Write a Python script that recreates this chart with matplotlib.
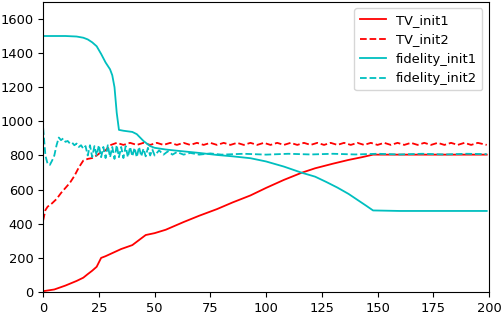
import matplotlib
matplotlib.use('Agg')
import matplotlib.pyplot as plt

# TV_init1 (solid red)
tv1_x = [0, 5, 10, 15, 18, 20, 22, 24, 26, 28, 31, 35, 40, 46, 50, 55, 63, 70, 78, 85, 93,
         100, 108, 116, 122, 130, 137, 143, 148, 160, 180, 199]
tv1_y = [5, 15, 38, 65, 84, 105, 125, 148, 200, 210, 228, 252, 275, 334, 345, 365, 410, 447, 486, 525, 566,
         610, 657, 699, 725, 752, 774, 790, 805, 805, 805, 805]

# fidelity_init1 (solid cyan)
fid1_x = [0, 10, 15, 18, 20, 22, 24, 26, 28, 30, 31, 32, 33, 34, 36, 40, 42, 45, 48, 50,
          55, 60, 70, 78, 85, 93, 100, 108, 116, 122, 127, 132, 137, 141, 145, 148, 160, 180, 199]
fid1_y = [1500, 1500, 1497, 1490, 1480, 1463, 1440, 1395, 1345, 1305, 1270, 1200, 1050, 950, 945, 938, 925, 885, 855, 845,
          835, 828, 815, 803, 795, 784, 765, 735, 699, 676, 645, 612, 575, 540, 505, 478, 475, 475, 475]

# TV_init2 (dashed red)
tv2_x = [0, 1, 2, 4, 6, 8, 10, 12, 14, 16, 18, 20, 22, 24, 26, 28, 30,
         33, 36, 39, 42, 45, 48, 51, 54, 57, 60, 63, 66, 69, 72, 75, 78, 81, 84, 87, 90,
         93, 96, 99, 102, 105, 108, 111, 114, 117, 120, 123, 126, 129, 132, 135, 138, 141, 144,
         147, 150, 153, 156, 159, 162, 165, 168, 171, 174, 177, 180, 183, 186, 189, 192, 195, 199]
tv2_y = [420, 480, 500, 520, 545, 580, 610, 640, 680, 730, 770, 780, 785, 800, 820, 830, 860,
         874, 862, 874, 862, 874, 862, 874, 862, 874, 862, 874, 862, 874, 862, 874, 862, 874, 862, 874, 862,
         874, 862, 874, 862, 874, 862, 874, 862, 874, 862, 874, 862, 874, 862, 874, 862, 874, 862,
         874, 862, 874, 862, 874, 862, 874, 862, 874, 862, 874, 862, 874, 862, 874, 862, 874, 862]

# fidelity_init2 (dashed cyan)
fid2_x = [0, 1, 2, 3, 4, 5, 6, 7, 8, 9, 10, 11, 12, 13, 14, 15, 16, 17, 18, 19,
          20, 21, 22, 23, 24, 25, 26, 27, 28, 29, 30, 31, 32, 33, 34, 35, 36, 37, 38, 39,
          40, 41, 42, 43, 44, 45, 46, 47, 48, 49, 50, 52, 54, 56, 58, 60, 63, 66, 70, 75,
          80, 90, 100, 110, 120, 130, 140, 150, 160, 170, 180, 190, 199]
fid2_y = [960, 800, 750, 745, 770, 800, 860, 905, 890, 900, 880, 885, 870, 875, 860, 870, 850, 860, 840, 855,
          800, 860, 790, 855, 800, 860, 790, 850, 785, 860, 790, 850, 780, 860, 790, 850, 785, 855, 790, 850,
          795, 845, 790, 850, 795, 840, 795, 845, 800, 835, 800, 830, 805, 825, 805, 820, 805, 815, 805, 812,
          805, 810, 805, 810, 806, 810, 806, 810, 806, 810, 806, 810, 808]

plt.rcParams['font.size'] = 9.4

fig = plt.figure(figsize=(5.02, 3.12), dpi=100)
ax = fig.add_axes([0.086, 0.064, 0.888, 0.93])

ax.plot(tv1_x, tv1_y, color='r', lw=1.3, label='TV_init1')
ax.plot(tv2_x, tv2_y, color='r', lw=1.3, ls='--', label='TV_init2')
ax.plot(fid1_x, fid1_y, color='c', lw=1.3, label='fidelity_init1')
ax.plot(fid2_x, fid2_y, color='c', lw=1.3, ls='--', label='fidelity_init2')

ax.set_xlim(0, 200)
ax.set_ylim(0, 1700)
ax.set_xticks([0, 25, 50, 75, 100, 125, 150, 175, 200])
ax.set_yticks([0, 200, 400, 600, 800, 1000, 1200, 1400, 1600])
ax.legend(loc='upper right')

fig.savefig('out.png', dpi=100)
